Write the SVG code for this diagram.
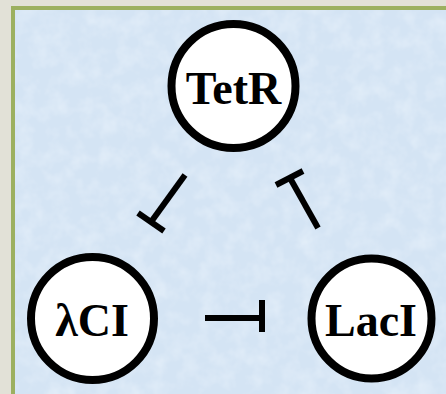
<svg xmlns="http://www.w3.org/2000/svg" width="446" height="394" viewBox="0 0 446 394">
  <defs>
    <filter id="grain" x="0" y="0" width="100%" height="100%">
      <feTurbulence type="fractalNoise" baseFrequency="0.06" numOctaves="3" seed="7" result="n"/>
      <feColorMatrix in="n" type="matrix" values="0 0 0 0 0.86  0 0 0 0 0.92  0 0 0 0 0.98  0 0 0 0.9 -0.35" result="c"/>
      <feComposite in="c" in2="SourceGraphic" operator="in"/>
    </filter>
    <style>
      .node circle { fill: #ffffff; stroke: #000000; stroke-width: 8; }
      .node text { font-family: "Liberation Serif", "Times New Roman", serif; font-weight: bold; font-size: 46px; fill: #000000; text-anchor: middle; }
      .edge { stroke: #000000; stroke-width: 6; fill: none; }
    </style>
  </defs>

  <!-- page background and framed panel -->
  <rect x="0" y="0" width="446" height="394" fill="#e2e1d7"/>
  <rect x="11" y="6" width="435" height="388" fill="#9cb060"/>
  <rect x="15" y="10" width="431" height="384" fill="#d4e4f4"/>
  <rect x="15" y="10" width="431" height="384" fill="#d4e4f4" filter="url(#grain)"/>

  <!-- repression edges -->
  <g id="connectors">
    <!-- TetR -| λCI -->
    <line class="edge" x1="185" y1="175" x2="151" y2="222"/>
    <line class="edge" x1="138" y1="213" x2="164" y2="231"/>
    <!-- LacI -| TetR -->
    <line class="edge" x1="318" y1="228" x2="290" y2="178"/>
    <line class="edge" x1="276" y1="185" x2="303" y2="171"/>
    <!-- λCI -| LacI -->
    <line class="edge" x1="205" y1="318" x2="262" y2="318"/>
    <line class="edge" x1="262" y1="300" x2="262" y2="332"/>
  </g>

  <g id="TetR" class="node">
    <circle cx="233.5" cy="86" r="62"/>
    <text x="233.5" y="104">TetR</text>
  </g>

  <g id="lambdaCI" class="node">
    <circle cx="92.5" cy="318.5" r="61.5"/>
    <text x="92" y="336">λCI</text>
  </g>

  <g id="LacI" class="node">
    <circle cx="371.5" cy="318.5" r="60"/>
    <text x="371" y="336">LacI</text>
  </g>
</svg>
